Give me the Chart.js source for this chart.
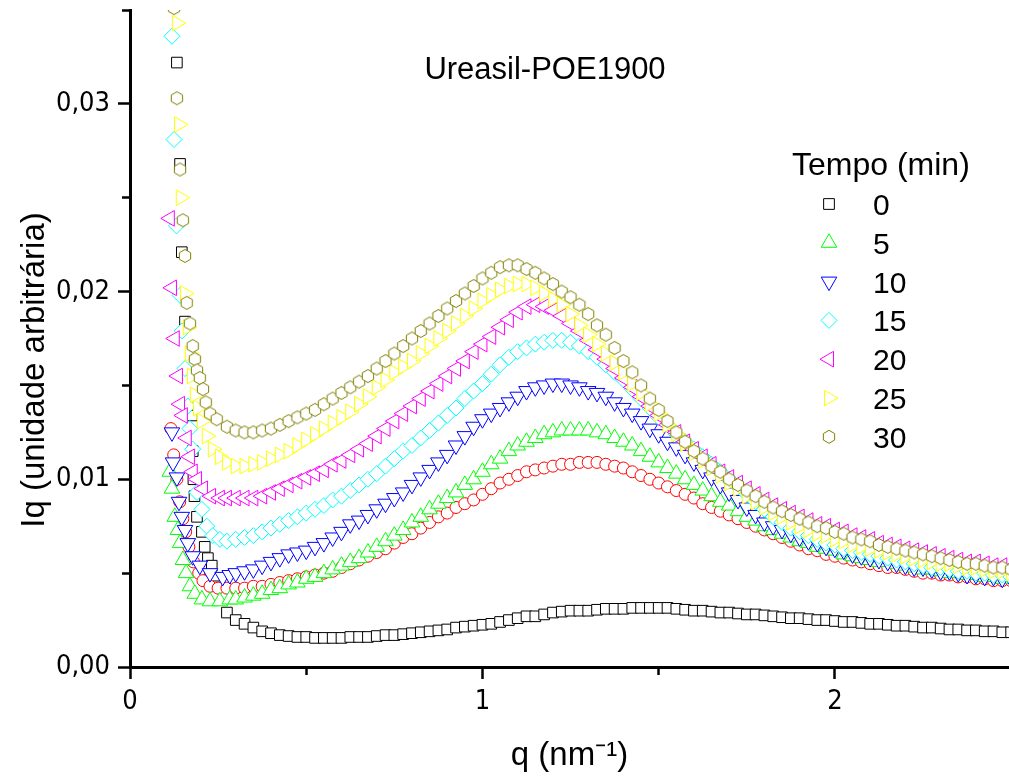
<!DOCTYPE html>
<html>
<head>
<meta charset="utf-8">
<title>Ureasil-POE1900</title>
<script src="https://cdn.jsdelivr.net/npm/chart.js"></script>
<style>
  html, body { margin: 0; padding: 0; background: #fff; }
  canvas { display: block; }
</style>
</head>
<body>
<canvas id="saxsChart" width="1009" height="776"></canvas>
<script>
// q values (nm^-1) shared by the main part of every curve
const qGrid = [
  0.300, 0.325, 0.350, 0.375, 0.400, 0.425, 0.450, 0.475, 0.500, 0.525,
  0.550, 0.575, 0.600, 0.625, 0.650, 0.675, 0.700, 0.725, 0.750, 0.775,
  0.800, 0.825, 0.850, 0.875, 0.900, 0.925, 0.950, 0.975, 1.000, 1.025,
  1.050, 1.075, 1.100, 1.125, 1.150, 1.175, 1.200, 1.225, 1.250, 1.275,
  1.300, 1.325, 1.350, 1.375, 1.400, 1.425, 1.450, 1.475, 1.500, 1.525,
  1.550, 1.575, 1.600, 1.625, 1.650, 1.675, 1.700, 1.725, 1.750, 1.775,
  1.800, 1.825, 1.850, 1.875, 1.900, 1.925, 1.950, 1.975, 2.000, 2.025,
  2.050, 2.075, 2.100, 2.125, 2.150, 2.175, 2.200, 2.225, 2.250, 2.275,
  2.300, 2.325, 2.350, 2.375, 2.400, 2.425, 2.450, 2.475, 2.500
];

// 0 min
const qHead0  = [0.133, 0.142, 0.147, 0.156, 0.176, 0.178, 0.180, 0.183, 0.190, 0.204, 0.212, 0.221, 0.232, 0.249, 0.275];
const iqHead0 = [0.0322, 0.0268, 0.0221, 0.0184, 0.0134, 0.0115, 0.0100, 0.0091, 0.0080, 0.0072, 0.0064, 0.0058, 0.0054, 0.0043, 0.0029];
const iq0 = [
  0.0025, 0.0023, 0.0021, 0.0019, 0.0018, 0.0017, 0.00165, 0.0016, 0.0016, 0.00155,
  0.00155, 0.00155, 0.00155, 0.0016, 0.0016, 0.0016, 0.00165, 0.0017, 0.0017, 0.00175,
  0.0018, 0.00185, 0.0019, 0.00195, 0.0020, 0.0021, 0.00215, 0.0022, 0.00225, 0.0023,
  0.0024, 0.0025, 0.0026, 0.0027, 0.0027, 0.0028, 0.0029, 0.00295, 0.0030, 0.0030,
  0.0030, 0.00305, 0.0031, 0.0031, 0.0031, 0.00315, 0.00315, 0.00315, 0.00315, 0.00315,
  0.0031, 0.00305, 0.0030, 0.0030, 0.00295, 0.0029, 0.0029, 0.00285, 0.0028, 0.0028,
  0.00275, 0.0027, 0.00265, 0.0026, 0.0026, 0.00255, 0.0025, 0.0025, 0.00245, 0.0024,
  0.0024, 0.00235, 0.0023, 0.0023, 0.00225, 0.0022, 0.0022, 0.00215, 0.0021, 0.0021,
  0.00205, 0.0020, 0.0020, 0.00195, 0.00195, 0.0019, 0.0019, 0.00185, 0.00185
];

// 5 min
const qHead5  = [0.113, 0.119, 0.127, 0.136, 0.142, 0.150, 0.159, 0.170, 0.184, 0.204, 0.227, 0.255, 0.283];
const iqHead5 = [0.0104, 0.0095, 0.0080, 0.0073, 0.0066, 0.0057, 0.0050, 0.0043, 0.0039, 0.0036, 0.0035, 0.0035, 0.0036];
const iq5 = [
  0.0036, 0.0037, 0.0038, 0.0039, 0.0041, 0.0042, 0.0044, 0.0045, 0.0047, 0.0048,
  0.0050, 0.0052, 0.0054, 0.0056, 0.0058, 0.0061, 0.0064, 0.0067, 0.0070, 0.0073,
  0.0077, 0.0080, 0.0084, 0.0087, 0.0090, 0.0093, 0.0097, 0.0100, 0.0104, 0.0108,
  0.0111, 0.0115, 0.0118, 0.0120, 0.0122, 0.0124, 0.0125, 0.0126, 0.0126, 0.0126,
  0.0126, 0.0125, 0.0124, 0.0122, 0.0120, 0.0118, 0.0115, 0.0112, 0.0109, 0.0106,
  0.0103, 0.0100, 0.0097, 0.0094, 0.0091, 0.0088, 0.0086, 0.0083, 0.0080, 0.0078,
  0.0075, 0.0073, 0.0071, 0.0069, 0.0067, 0.0066, 0.0064, 0.0063, 0.0062, 0.0060,
  0.0059, 0.0058, 0.0057, 0.0056, 0.0056, 0.0055, 0.0054, 0.0053, 0.0052, 0.0052,
  0.0051, 0.0050, 0.0050, 0.0049, 0.0049, 0.0048, 0.0048, 0.0047, 0.0047
];

// 10 min
const qHead10  = [0.119, 0.122, 0.133, 0.139, 0.147, 0.156, 0.164, 0.178, 0.198, 0.227, 0.263, 0.283];
const iqHead10 = [0.0125, 0.0109, 0.0101, 0.0088, 0.0080, 0.0073, 0.0066, 0.0059, 0.0054, 0.0050, 0.0048, 0.0049];
const iq10 = [
  0.0050, 0.0051, 0.0052, 0.0054, 0.0056, 0.0058, 0.0060, 0.0061, 0.0062, 0.0064,
  0.0066, 0.0069, 0.0072, 0.0076, 0.0078, 0.0081, 0.0084, 0.0087, 0.0090, 0.0093,
  0.0097, 0.0101, 0.0105, 0.0109, 0.0113, 0.0118, 0.0123, 0.0128, 0.0132, 0.0135,
  0.0138, 0.0141, 0.0144, 0.0147, 0.0149, 0.0150, 0.0151, 0.0151, 0.0150, 0.0149,
  0.0147, 0.0146, 0.0144, 0.0141, 0.0138, 0.0135, 0.0131, 0.0127, 0.0124, 0.0120,
  0.0117, 0.0113, 0.0109, 0.0105, 0.0101, 0.0097, 0.0093, 0.0089, 0.0085, 0.0081,
  0.0077, 0.0075, 0.0073, 0.0071, 0.0069, 0.0067, 0.0066, 0.0064, 0.0063, 0.0062,
  0.0060, 0.0059, 0.0058, 0.0057, 0.0056, 0.0055, 0.0054, 0.0053, 0.0053, 0.0052,
  0.0051, 0.0051, 0.0050, 0.0049, 0.0049, 0.0048, 0.0048, 0.0047, 0.0047
];

// 15 min
const qHead15  = [0.119, 0.125, 0.132, 0.142, 0.148, 0.156, 0.164, 0.170, 0.178, 0.190, 0.204, 0.218, 0.235, 0.255, 0.275];
const iqHead15 = [0.0336, 0.0281, 0.0235, 0.0198, 0.0179, 0.0159, 0.0139, 0.0127, 0.0116, 0.0093, 0.0084, 0.0075, 0.0070, 0.0068, 0.0067];
const iq15 = [
  0.0068, 0.0069, 0.0070, 0.0072, 0.0074, 0.0076, 0.0078, 0.0080, 0.0082, 0.0084,
  0.0086, 0.0089, 0.0091, 0.0094, 0.0097, 0.0100, 0.0103, 0.0107, 0.0111, 0.0115,
  0.0118, 0.0122, 0.0126, 0.0130, 0.0134, 0.0138, 0.0143, 0.0147, 0.0151, 0.0156,
  0.0161, 0.0165, 0.0168, 0.0170, 0.0172, 0.0173, 0.0174, 0.0174, 0.0173, 0.0171,
  0.0168, 0.0165, 0.0161, 0.0157, 0.0153, 0.0148, 0.0143, 0.0138, 0.0133, 0.0129,
  0.0124, 0.0120, 0.0116, 0.0112, 0.0108, 0.0104, 0.0100, 0.0096, 0.0092, 0.0088,
  0.0084, 0.0080, 0.0077, 0.0074, 0.0072, 0.0070, 0.0068, 0.0066, 0.0065, 0.0063,
  0.0062, 0.0061, 0.0060, 0.0059, 0.0058, 0.0057, 0.0056, 0.0055, 0.0054, 0.0053,
  0.0053, 0.0052, 0.0051, 0.0051, 0.0050, 0.0050, 0.0049, 0.0049, 0.0048
];

// 20 min
const qHead20  = [0.113, 0.119, 0.127, 0.136, 0.142, 0.150, 0.161, 0.170, 0.178, 0.190, 0.207, 0.230, 0.255, 0.275];
const iqHead20 = [0.0239, 0.0202, 0.0175, 0.0155, 0.0140, 0.0134, 0.0122, 0.0112, 0.0104, 0.0100, 0.0095, 0.0091, 0.0090, 0.0090];
const iq20 = [
  0.0090, 0.0090, 0.0090, 0.0091, 0.0093, 0.0095, 0.0097, 0.0099, 0.0101, 0.0103,
  0.0105, 0.0108, 0.0110, 0.0113, 0.0116, 0.0119, 0.0123, 0.0127, 0.0131, 0.0135,
  0.0139, 0.0143, 0.0147, 0.0151, 0.0155, 0.0159, 0.0163, 0.0168, 0.0172, 0.0176,
  0.0181, 0.0185, 0.0189, 0.0192, 0.0193, 0.0192, 0.0190, 0.0187, 0.0183, 0.0179,
  0.0174, 0.0169, 0.0164, 0.0159, 0.0154, 0.0149, 0.0144, 0.0139, 0.0134, 0.0129,
  0.0125, 0.0120, 0.0116, 0.0112, 0.0108, 0.0104, 0.0101, 0.0098, 0.0095, 0.0092,
  0.0089, 0.0086, 0.0084, 0.0082, 0.0080, 0.0078, 0.0076, 0.0075, 0.0073, 0.0072,
  0.0070, 0.0069, 0.0068, 0.0066, 0.0065, 0.0064, 0.0063, 0.0062, 0.0061, 0.0060,
  0.0059, 0.0058, 0.0057, 0.0056, 0.0056, 0.0055, 0.0054, 0.0054, 0.0053
];

// 25 min
const qHead25  = [0.133, 0.139, 0.144, 0.156, 0.164, 0.170, 0.176, 0.184, 0.193, 0.204, 0.218, 0.235, 0.255, 0.275];
const iqHead25 = [0.0343, 0.0289, 0.0250, 0.0199, 0.0181, 0.0167, 0.0155, 0.0145, 0.0138, 0.0131, 0.0123, 0.0116, 0.0112, 0.0109];
const iq25 = [
  0.0107, 0.0107, 0.0108, 0.0109, 0.0111, 0.0113, 0.0115, 0.0118, 0.0121, 0.0124,
  0.0127, 0.0130, 0.0133, 0.0136, 0.0140, 0.0144, 0.0149, 0.0153, 0.0157, 0.0160,
  0.0163, 0.0167, 0.0171, 0.0175, 0.0179, 0.0183, 0.0187, 0.0191, 0.0195, 0.0198,
  0.0201, 0.0203, 0.0204, 0.0204, 0.0202, 0.0199, 0.0196, 0.0193, 0.0188, 0.0182,
  0.0177, 0.0172, 0.0167, 0.0162, 0.0157, 0.0151, 0.0146, 0.0140, 0.0135, 0.0129,
  0.0124, 0.0119, 0.0114, 0.0110, 0.0106, 0.0102, 0.0098, 0.0095, 0.0091, 0.0088,
  0.0085, 0.0082, 0.0080, 0.0077, 0.0075, 0.0073, 0.0071, 0.0070, 0.0068, 0.0067,
  0.0065, 0.0064, 0.0063, 0.0062, 0.0061, 0.0060, 0.0059, 0.0058, 0.0057, 0.0056,
  0.0055, 0.0055, 0.0054, 0.0053, 0.0053, 0.0052, 0.0051, 0.0051, 0.0050
];

// 30 min
const qHead30  = [0.125, 0.133, 0.142, 0.150, 0.156, 0.161, 0.170, 0.178, 0.184, 0.190, 0.198, 0.207, 0.215, 0.227, 0.246, 0.275];
const iqHead30 = [0.0351, 0.0303, 0.0265, 0.0238, 0.0219, 0.0194, 0.0183, 0.0171, 0.0164, 0.0158, 0.0154, 0.0148, 0.0141, 0.0135, 0.0132, 0.0128];
const iq30 = [
  0.0126, 0.0125, 0.0125, 0.0126, 0.0127, 0.0129, 0.0131, 0.0133, 0.0135, 0.0137,
  0.0140, 0.0143, 0.0146, 0.0149, 0.0152, 0.0155, 0.0159, 0.0163, 0.0167, 0.0171,
  0.0175, 0.0179, 0.0183, 0.0187, 0.0191, 0.0195, 0.0199, 0.0203, 0.0207, 0.0210,
  0.0213, 0.0214, 0.0214, 0.0212, 0.0210, 0.0207, 0.0204, 0.0200, 0.0197, 0.0193,
  0.0188, 0.0182, 0.0177, 0.0170, 0.0163, 0.0157, 0.0150, 0.0143, 0.0137, 0.0131,
  0.0125, 0.0120, 0.0115, 0.0111, 0.0107, 0.0104, 0.0100, 0.0097, 0.0094, 0.0091,
  0.0088, 0.0085, 0.0083, 0.0081, 0.0079, 0.0077, 0.0075, 0.0074, 0.0072, 0.0071,
  0.0069, 0.0068, 0.0067, 0.0065, 0.0064, 0.0063, 0.0062, 0.0061, 0.0060, 0.0059,
  0.0058, 0.0057, 0.0056, 0.0055, 0.0055, 0.0054, 0.0053, 0.0053, 0.0052
];

// extra curve (red circles), not listed in the legend
const qHeadR  = [0.116, 0.124, 0.133, 0.141, 0.150, 0.158, 0.167, 0.180, 0.195, 0.207, 0.227, 0.250, 0.275];
const iqHeadR = [0.0127, 0.0113, 0.0100, 0.0088, 0.0079, 0.0072, 0.0064, 0.0056, 0.0050, 0.0046, 0.0043, 0.0042, 0.0042];
const iqR = [
  0.0042, 0.0042, 0.0043, 0.0043, 0.0044, 0.0045, 0.0046, 0.0047, 0.0048, 0.0049,
  0.0050, 0.0051, 0.0053, 0.0055, 0.0057, 0.0059, 0.0061, 0.0063, 0.0066, 0.0069,
  0.0071, 0.0074, 0.0077, 0.0080, 0.0082, 0.0085, 0.0087, 0.0089, 0.0092, 0.0095,
  0.0098, 0.0100, 0.0102, 0.0104, 0.0105, 0.0106, 0.0107, 0.0108, 0.0108, 0.0109,
  0.0109, 0.0109, 0.0108, 0.0107, 0.0106, 0.0104, 0.0102, 0.0100, 0.0098, 0.0096,
  0.0094, 0.0092, 0.0090, 0.0087, 0.0085, 0.0083, 0.0081, 0.0079, 0.0077, 0.0075,
  0.0073, 0.0071, 0.0069, 0.0067, 0.0065, 0.0063, 0.0062, 0.0060, 0.0059, 0.0058,
  0.0057, 0.0056, 0.0055, 0.0054, 0.0053, 0.0053, 0.0052, 0.0051, 0.0050, 0.0050,
  0.0049, 0.0049, 0.0048, 0.0048, 0.0047, 0.0047, 0.0046, 0.0046, 0.0046
];

const tempoLabels = ['0', '5', '10', '15', '20', '25', '30'];
const chartTitle = 'Ureasil-POE1900';
const legendTitle = 'Tempo (min)';
const yTitle = 'Iq (unidade arbitrária)';

const FONT = '"Liberation Sans", Arial, sans-serif';
const NARROW = '"Liberation Sans Narrow", "Arial Narrow", "DejaVu Sans Condensed", sans-serif';
Chart.defaults.font.family = FONT;
Chart.defaults.color = '#000';

function toPoints(qh, ih, iq) {
  const head = qh.map((q, i) => ({ x: q, y: ih[i] }));
  return head.concat(qGrid.map((q, i) => ({ x: q, y: iq[i] })));
}

function hexImage(color, r) {
  const c = document.createElement('canvas');
  const s = Math.ceil(2 * r + 3);
  c.width = s; c.height = s;
  const g = c.getContext('2d');
  g.beginPath();
  for (let k = 0; k < 6; k++) {
    const a = -Math.PI / 2 + k * Math.PI / 3;
    const px = s / 2 + r * Math.cos(a), py = s / 2 + r * Math.sin(a);
    if (k === 0) g.moveTo(px, py); else g.lineTo(px, py);
  }
  g.closePath();
  g.fillStyle = '#fff';
  g.fill();
  g.strokeStyle = color;
  g.lineWidth = 1;
  g.stroke();
  return c;
}

// marker look for each curve (legend shapes mirror these)
const styles = [
  { color: '#000000', pointStyle: 'rect',     radius: 7.5, rotation: 0,   n: 4, start: 45,  r: 7.6 },
  { color: '#00ff00', pointStyle: 'triangle', radius: 9,   rotation: 0,   n: 3, start: -90, r: 9 },
  { color: '#0000ff', pointStyle: 'triangle', radius: 9,   rotation: 180, n: 3, start: 90,  r: 9 },
  { color: '#00ffff', pointStyle: 'rectRot',  radius: 8,   rotation: 0,   n: 4, start: -90, r: 8 },
  { color: '#ff00ff', pointStyle: 'triangle', radius: 9,   rotation: 270, n: 3, start: 180, r: 9 },
  { color: '#ffff00', pointStyle: 'triangle', radius: 9,   rotation: 90,  n: 3, start: 0,   r: 9 },
  { color: '#808000', pointStyle: hexImage('#808000', 6.5), radius: 7, rotation: 0, n: 6, start: -90, r: 6.5 }
];

const seriesData = [
  toPoints(qHead0, iqHead0, iq0),
  toPoints(qHead5, iqHead5, iq5),
  toPoints(qHead10, iqHead10, iq10),
  toPoints(qHead15, iqHead15, iq15),
  toPoints(qHead20, iqHead20, iq20),
  toPoints(qHead25, iqHead25, iq25),
  toPoints(qHead30, iqHead30, iq30)
];
// lower order is drawn on top
const drawOrder = [7, 5, 4, 3, 2, 1, 0];

const datasets = seriesData.map((pts, i) => ({
  label: tempoLabels[i],
  data: pts,
  showLine: false,
  pointStyle: styles[i].pointStyle,
  pointRadius: styles[i].radius,
  pointRotation: styles[i].rotation,
  pointBorderColor: styles[i].color,
  pointBackgroundColor: '#fff',
  pointBorderWidth: 1,
  order: drawOrder[i],
  clip: { left: 10, top: 0, right: 10, bottom: 10 }
}));

datasets.push({
  label: '',
  data: toPoints(qHeadR, iqHeadR, iqR),
  showLine: false,
  pointStyle: 'circle',
  pointRadius: 6,
  pointBorderColor: '#ff0000',
  pointBackgroundColor: '#fff',
  pointBorderWidth: 1,
  order: 6,
  clip: { left: 10, top: 0, right: 10, bottom: 10 }
});

function drawMarker(ctx, st, x, y) {
  ctx.beginPath();
  for (let k = 0; k < st.n; k++) {
    const a = (st.start + k * 360 / st.n) * Math.PI / 180;
    const px = x + st.r * Math.cos(a), py = y + st.r * Math.sin(a);
    if (k === 0) ctx.moveTo(px, py); else ctx.lineTo(px, py);
  }
  ctx.closePath();
  ctx.fillStyle = '#fff';
  ctx.fill();
  ctx.lineWidth = 1;
  ctx.strokeStyle = st.color;
  ctx.stroke();
}

// title, legend and y-axis title placed inside/next to the plot
const inPlotText = {
  id: 'inPlotText',
  afterDraw(chart) {
    const ctx = chart.ctx;
    ctx.save();
    ctx.fillStyle = '#000';
    ctx.textBaseline = 'alphabetic';
    ctx.font = '31px ' + FONT;
    ctx.textAlign = 'center';
    ctx.fillText(chartTitle, 545, 79);
    ctx.textAlign = 'left';
    ctx.font = '32px ' + FONT;
    ctx.fillText(legendTitle, 792, 175);
    ctx.font = '30px ' + FONT;
    tempoLabels.forEach((lab, i) => {
      const base = 215 + i * 38.8;
      drawMarker(ctx, styles[i], 829, base - 11);
      ctx.fillStyle = '#000';
      ctx.fillText(lab, 873, base);
    });

    ctx.translate(35, 370);
    ctx.rotate(-Math.PI / 2);
    ctx.font = '33px ' + FONT;
    ctx.textAlign = 'center';
    ctx.textBaseline = 'middle';
    ctx.fillText(yTitle, 0, 0);
    ctx.restore();
  }
};

const isMajorX = v => Math.round(v / 0.5) % 2 === 0;
const isMajorY = v => Math.round(v / 0.005) % 2 === 0;

new Chart(document.getElementById('saxsChart').getContext('2d'), {
  type: 'scatter',
  data: { datasets },
  options: {
    responsive: false,
    animation: false,
    events: [],
    layout: { autoPadding: false, padding: { top: 10, right: 0, bottom: 0, left: 0 } },
    plugins: {
      legend: { display: false },
      tooltip: { enabled: false }
    },
    scales: {
      x: {
        type: 'linear',
        min: 0,
        max: 2.494,
        border: { display: true, color: '#000', width: 3 },
        grid: {
          drawOnChartArea: false,
          tickLength: 12,
          tickWidth: 2.5,
          tickColor: '#000',
          tickBorderDash: c => (c.tick && !isMajorX(c.tick.value)) ? [6, 100] : []
        },
        ticks: {
          stepSize: 0.5,
          includeBounds: false,
          autoSkip: false,
          maxRotation: 0,
          padding: 7,
          font: { size: 27, family: NARROW },
          color: '#000',
          callback: v => isMajorX(v) ? String(Math.round(v)) : ''
        },
        title: {
          display: true,
          text: 'q (nm⁻¹)',
          font: { size: 33 },
          color: '#000',
          padding: { top: 0, bottom: 0 }
        },
        afterFit: s => {
          s.height = 109;
          s.paddingLeft = 0;
          s.paddingRight = 0;
        }
      },
      y: {
        type: 'linear',
        min: 0,
        max: 0.035,
        border: { display: true, color: '#000', width: 3 },
        grid: {
          drawOnChartArea: false,
          tickLength: 12,
          tickWidth: 2.5,
          tickColor: '#000',
          tickBorderDash: c => (c.tick && !isMajorY(c.tick.value)) ? [0, 4, 20] : []
        },
        ticks: {
          stepSize: 0.005,
          includeBounds: false,
          autoSkip: false,
          padding: 8,
          font: { size: 27, family: NARROW },
          color: '#000',
          callback: v => isMajorY(v) ? (Math.round(v / 0.005) * 0.005).toFixed(2).replace('.', ',') : ''
        },
        title: { display: false },
        afterFit: s => {
          s.width = 130;
          s.paddingTop = 0;
          s.paddingBottom = 0;
        }
      }
    }
  },
  plugins: [inPlotText]
});
</script>
</body>
</html>
